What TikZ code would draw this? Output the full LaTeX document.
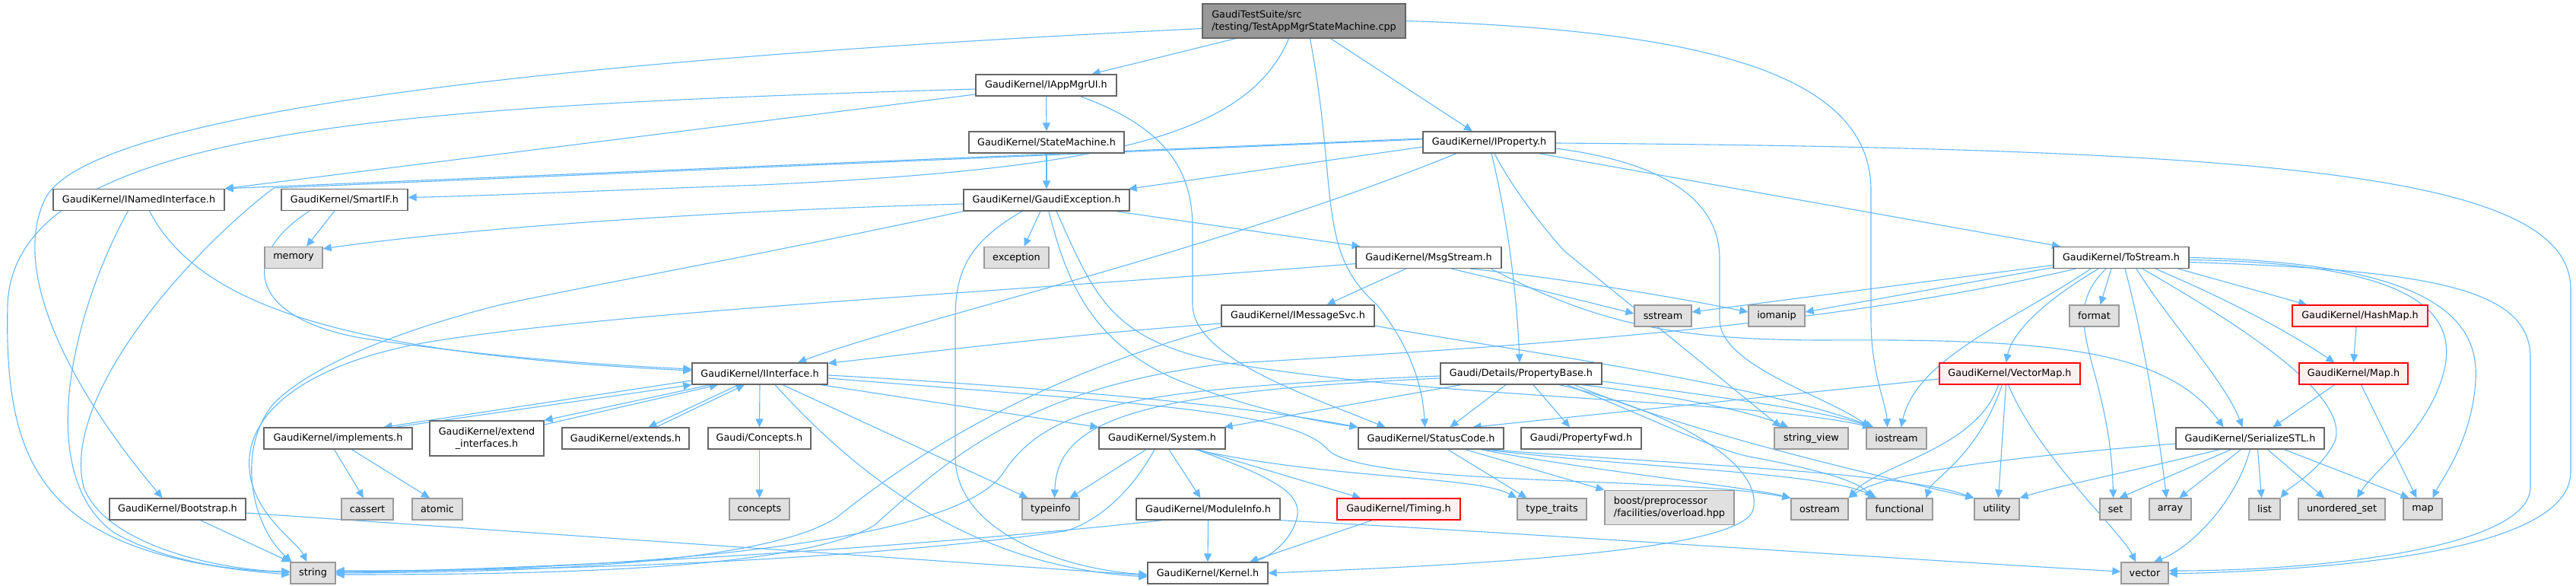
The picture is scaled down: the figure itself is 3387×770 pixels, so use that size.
\documentclass[tikz,border=0pt]{standalone}
\usepackage{fontspec}
\setmainfont{DejaVu Sans}
\usetikzlibrary{arrows.meta,backgrounds}
\definecolor{edgeblue}{HTML}{63B8FF}
\definecolor{nodegray}{HTML}{666666}
\definecolor{sysgray}{HTML}{999999}
\definecolor{sysfill}{HTML}{E0E0E0}
\definecolor{redline}{HTML}{FF0000}
\definecolor{redfill}{HTML}{FFF0F0}
\definecolor{rootfill}{HTML}{999999}
\begin{document}
\begin{tikzpicture}[x=1pt,y=-1pt,
  every node/.style={font=\fontsize{12.8pt}{16pt}\selectfont, inner sep=0pt},
  box/.style={draw=nodegray, fill=white, line width=1.3pt, minimum height=28pt},
  gbox/.style={box, draw=sysgray, fill=sysfill},
  rbox/.style={box, draw=redline, fill=redfill},
  edge/.style={draw=edgeblue, line width=1.1pt, -{Triangle[length=11pt,width=10pt]}},
]
\useasboundingbox (0,0) rectangle (3387,770);
% row 0
\node[box, fill=rootfill, minimum width=267pt, minimum height=45pt, align=left] (R) at (1714.5,27.5) {GaudiTestSuite/src\\/testing/TestAppMgrStateMachine.cpp};
% row 1
\node[box, minimum width=185pt] (A) at (1375.5,112) {GaudiKernel/IAppMgrUI.h};
% row 2
\node[box, minimum width=204pt] (SM) at (1376,187) {GaudiKernel/StateMachine.h};
\node[box, minimum width=174pt] (IP) at (1958,187) {GaudiKernel/IProperty.h};
% row 3
\node[box, minimum width=225pt] (INI) at (182.5,262.5) {GaudiKernel/INamedInterface.h};
\node[box, minimum width=166pt] (SIF) at (453,262.5) {GaudiKernel/SmartIF.h};
\node[box, minimum width=218pt] (GE) at (1376,263) {GaudiKernel/GaudiException.h};
% row 4
\node[gbox, minimum width=76pt] (mem) at (386,338.5) {memory};
\node[gbox, minimum width=85pt] (exc) at (1336.5,338.5) {exception};
\node[box, minimum width=191pt] (MS) at (1878.5,338.5) {GaudiKernel/MsgStream.h};
\node[box, minimum width=178pt] (TS) at (2789,338.5) {GaudiKernel/ToStream.h};
% row 5
\node[box, minimum width=201pt] (IMS) at (1706.5,415) {GaudiKernel/IMessageSvc.h};
\node[gbox, minimum width=75pt] (sst) at (2186.5,415) {sstream};
\node[gbox, minimum width=74pt] (iom) at (2336,415) {iomanip};
\node[gbox, minimum width=65pt] (fmt) at (2753.5,415) {format};
\node[rbox, minimum width=178pt] (HM) at (3103,415) {GaudiKernel/HashMap.h};
% row 6
\node[box, minimum width=178pt] (II) at (999,491) {GaudiKernel/IInterface.h};
\node[box, minimum width=212pt] (PB) at (2000,491) {Gaudi/Details/PropertyBase.h};
\node[rbox, minimum width=185pt] (VM) at (2642.5,491) {GaudiKernel/VectorMap.h};
\node[rbox, minimum width=143pt] (MapH) at (3094.5,491) {GaudiKernel/Map.h};
% row 7
\node[box, minimum width=195pt] (impl) at (444.5,576) {GaudiKernel/implements.h};
\node[box, minimum width=150pt, minimum height=46pt, align=center] (extif) at (640,576) {GaudiKernel/extend\\\_interfaces.h};
\node[box, minimum width=167pt] (exts) at (822.5,576) {GaudiKernel/extends.h};
\node[box, minimum width=135pt] (ConH) at (998.5,576) {Gaudi/Concepts.h};
\node[box, minimum width=166pt] (Sys) at (1528,576) {GaudiKernel/System.h};
\node[box, minimum width=191pt] (SC) at (1881.5,576) {GaudiKernel/StatusCode.h};
\node[box, minimum width=158pt] (PF) at (2079,576) {Gaudi/PropertyFwd.h};
\node[gbox, minimum width=97pt] (sv) at (2381.5,576) {string\_view};
\node[gbox, minimum width=79pt] (ios) at (2493.5,576) {iostream};
\node[box, minimum width=195pt] (SS) at (2958.5,576) {GaudiKernel/SerializeSTL.h};
% row 8
\node[box, minimum width=179pt] (Boot) at (233.5,669) {GaudiKernel/Bootstrap.h};
\node[gbox, minimum width=68pt] (cas) at (483,669) {cassert};
\node[gbox, minimum width=66pt] (atom) at (575,669) {atomic};
\node[gbox, minimum width=79pt] (conc) at (998.5,669) {concepts};
\node[gbox, minimum width=75pt] (tinf) at (1381.5,669) {typeinfo};
\node[box, minimum width=189pt] (MI) at (1588.5,669) {GaudiKernel/ModuleInfo.h};
\node[rbox, minimum width=162pt] (Tim) at (1839,669) {GaudiKernel/Timing.h};
\node[gbox, minimum width=91pt] (tt) at (2040.5,669) {type\_traits};
\node[gbox, minimum width=170pt, minimum height=45pt, align=left] (boost) at (2195,667) {boost/preprocessor\\/facilities/overload.hpp};
\node[gbox, minimum width=75pt] (ost) at (2392.5,669) {ostream};
\node[gbox, minimum width=87pt] (func) at (2497.5,669) {functional};
\node[gbox, minimum width=59pt] (util) at (2625.5,669) {utility};
\node[gbox, minimum width=41pt] (set) at (2781.5,669) {set};
\node[gbox, minimum width=55pt] (arr) at (2853.5,669) {array};
\node[gbox, minimum width=41pt] (lst) at (2977.5,669) {list};
\node[gbox, minimum width=114pt] (uset) at (3079,669) {unordered\_set};
\node[gbox, minimum width=51pt] (mapS) at (3185.5,669) {map};
% row 9
\node[gbox, minimum width=59pt] (str) at (411.5,753) {string};
\node[box, minimum width=158pt] (Ker) at (1588,753) {GaudiKernel/Kernel.h};
\node[gbox, minimum width=62pt] (vec) at (2820,753) {vector};

\begin{scope}[on background layer]
\fill[white] (0,0) rectangle (3387,770);
% root
\draw[edge] ([yshift=-10pt]R.west) .. controls (700,80) and (120,150) .. (60,260) .. controls (10,360) and (100,520) .. ([xshift=-20pt]Boot.north);
\draw[edge] ([xshift=-90pt]R.south) -- ([xshift=60pt]A.north);
\draw[edge] ([xshift=35pt]R.south) -- ([xshift=-22pt]IP.north);
\draw[edge] ([xshift=-20pt]R.south) .. controls (1640,180) and (1450,222) .. (1000,243) .. controls (800,250) and (650,257) .. ([yshift=3pt]SIF.east);
\draw[edge] ([xshift=8pt]R.south) .. controls (1760,250) and (1730,330) .. (1810,400) .. controls (1850,450) and (1870,500) .. ([xshift=-8pt]SC.north);
\draw[edge] (R.east) .. controls (2250,40) and (2460,100) .. (2460,250) -- (2460,420) .. controls (2460,490) and (2480,530) .. ([xshift=-12pt]ios.north);
% IAppMgrUI
\draw[edge] ([yshift=-5pt]A.west) .. controls (500,140) and (20,170) .. (10,400) .. controls (5,620) and (60,730) .. ([yshift=-2pt]str.west);
\draw[edge] ([yshift=-12pt]A.west) -- (INI.north east);
\draw[edge] (A.south) -- (SM.north);
\draw[edge] ([xshift=45pt]A.south) .. controls (1540,170) and (1568,230) .. (1568,300) -- (1568,400) .. controls (1568,470) and (1720,520) .. ([xshift=-60pt]SC.north);
% StateMachine
\draw[edge] (SM.south) -- (GE.north);
% IProperty
\draw[edge] ([yshift=5pt]IP.west) -- (INI.north east);
\draw[edge] ([yshift=4pt]IP.west) -- (360,247) .. controls (250,330) and (80,520) .. (110,640) .. controls (140,720) and (300,750) .. ([yshift=2pt]str.west);
\draw[edge] ([yshift=-6pt]IP.west) -- ([xshift=-2pt]GE.north east);
\draw[edge] ([xshift=-43pt]IP.south) .. controls (1600,330) and (1200,420) .. ([xshift=50pt]II.north);
\draw[edge] ([xshift=3pt]IP.south) .. controls (1985,300) and (1995,400) .. ([xshift=-2pt]PB.north);
\draw[edge] ([xshift=7pt]IP.south) .. controls (1990,250) and (2030,300) .. (2057,330) -- ([xshift=-40pt]sv.north);
\draw[edge] ([yshift=-8pt]IP.east) .. controls (2200,215) and (2261,270) .. (2261,340) -- (2261,420) .. controls (2261,480) and (2400,520) .. ([xshift=-35pt]ios.north);
\draw[edge] ([xshift=65pt]IP.south) -- ([xshift=-80pt]TS.north);
\draw[edge] ([yshift=-1pt]IP.east) .. controls (3000,195) and (3380,230) .. (3380,380) -- (3380,620) .. controls (3380,720) and (3100,748) .. ([yshift=-1pt]vec.east);
% INamedInterface
\draw[edge] ([xshift=14pt]INI.south) .. controls (260,400) and (450,465) .. ([yshift=4pt]II.west);
\draw[edge] ([xshift=-14pt]INI.south) .. controls (100,400) and (40,620) .. (150,700) .. controls (230,745) and (330,750) .. ([yshift=1pt]str.west);
% SmartIF
\draw[edge] ([xshift=-46pt]SIF.south) .. controls (310,340) and (330,420) .. (480,445) .. controls (650,470) and (800,480) .. ([yshift=6pt]II.west);
\draw[edge] ([xshift=-13pt]SIF.south) -- ([xshift=17pt]mem.north);
% GaudiException
\draw[edge] ([yshift=-5pt]GE.west) .. controls (1000,275) and (650,295) .. ([yshift=-3pt]mem.north east);
\draw[edge] (GE.south west) .. controls (1000,335) and (800,370) .. (660,400) .. controls (560,425) and (420,470) .. (360,530) .. controls (310,590) and (330,690) .. ([xshift=-28pt]str.north);
\draw[edge] ([xshift=-32pt]GE.south) .. controls (1270,320) and (1256,360) .. (1256,420) -- (1256,600) .. controls (1256,700) and (1400,748) .. ([yshift=-2pt]Ker.west);
\draw[edge] ([xshift=-8pt]GE.south) -- ([xshift=10pt]exc.north);
\draw[edge] ([xshift=91pt]GE.south) -- ([xshift=-90pt]MS.north);
\draw[edge] ([xshift=3pt]GE.south) .. controls (1400,360) and (1430,450) .. (1550,500) .. controls (1650,540) and (1740,555) .. (SC.north west);
\draw[edge] ([xshift=13pt]GE.south) .. controls (1440,390) and (1460,450) .. (1620,478) .. controls (1900,525) and (2300,525) .. ([xshift=-33pt]ios.north);
% MsgStream
\draw[edge] ([xshift=-30pt]MS.south) -- ([xshift=38pt]IMS.north);
\draw[edge] ([yshift=-8pt]MS.west) .. controls (1300,385) and (800,410) .. (560,450) .. controls (420,475) and (335,530) .. (328,600) .. controls (322,670) and (390,710) .. ([xshift=-8pt]str.north);
\draw[edge] ([xshift=30pt]MS.south) .. controls (1980,370) and (2080,395) .. ([yshift=3pt]sst.west);
\draw[edge] ([xshift=55pt]MS.south) .. controls (2050,365) and (2200,390) .. ([yshift=5pt]iom.west);
\draw[edge] ([xshift=82pt]MS.south) .. controls (2100,425) and (2200,447) .. (2400,447) .. controls (2700,445) and (2850,460) .. ([xshift=-35pt]SS.north);
% IMessageSvc
\draw[edge] ([yshift=-10pt]IMS.west) .. controls (1400,440) and (1200,465) .. ([yshift=-1pt]II.north east);
\draw[edge] (IMS.south west) .. controls (1350,500) and (1200,600) .. (1100,680) .. controls (1000,745) and (650,752) .. (str.east);
\draw[edge] ([yshift=-13pt]IMS.east) .. controls (1950,455) and (2300,500) .. ([xshift=-30pt]ios.north);
% ToStream
\draw[edge] ([yshift=-10pt]TS.west) -- ([yshift=5pt]sst.east);
\draw[edge] ([yshift=-13pt]TS.west) -- ([yshift=5pt]iom.east);
\draw[edge] ([xshift=-60pt]TS.south) .. controls (2400,430) and (2000,455) .. (1610,478) .. controls (1350,510) and (1250,600) .. (1150,690) .. controls (1050,750) and (700,755) .. ([yshift=-2pt]str.east);
\draw[edge] ([xshift=-40pt]TS.south) .. controls (2650,420) and (2520,470) .. ([xshift=6pt]ios.north);
\draw[edge] ([xshift=-30pt]TS.south) .. controls (2680,400) and (2645,440) .. ([xshift=-5pt]VM.north);
\draw[edge] ([xshift=-13pt]TS.south) -- ([xshift=8pt]fmt.north);
\draw[edge] ([xshift=-20pt]TS.south) .. controls (2700,420) and (2775,480) .. ([xshift=-3pt]set.north);
\draw[edge] ([xshift=5pt]TS.south) .. controls (2820,450) and (2840,580) .. ([xshift=-5pt]arr.north);
\draw[edge] ([xshift=20pt]TS.south) .. controls (2850,420) and (2925,500) .. ([xshift=-10pt]SS.north);
\draw[edge] ([xshift=28pt]TS.south) .. controls (2950,430) and (3090,520) .. (3070,580) .. controls (3050,620) and (3010,640) .. (lst.north east);
\draw[edge] ([xshift=45pt]TS.south) .. controls (2920,390) and (3000,430) .. ([xshift=-25pt]MapH.north);
\draw[edge] ([xshift=75pt]TS.south) -- ([xshift=-70pt]HM.north);
\draw[edge] ([yshift=-3pt]TS.east) .. controls (3150,345) and (3230,400) .. (3215,480) .. controls (3200,560) and (3120,620) .. ([xshift=20pt]uset.north);
\draw[edge] ([yshift=0pt]TS.east) .. controls (3200,345) and (3260,420) .. (3255,500) .. controls (3250,580) and (3210,630) .. ([xshift=13pt]mapS.north);
\draw[edge] ([yshift=-6pt]TS.east) .. controls (3200,355) and (3327,380) .. (3327,470) -- (3327,640) .. controls (3327,720) and (3050,750) .. ([yshift=3pt]vec.east);
% IInterface
\draw[edge] ([yshift=-9pt]II.west) -- ([xshift=60pt]impl.north);
\draw[edge] ([xshift=75pt]impl.north) -- (II.south west);
\draw[edge] ([xshift=-65pt]II.south) -- (extif.north east);
\draw[edge] ([yshift=18pt]extif.east) -- ([xshift=-55pt]II.south);
\draw[edge] ([xshift=-28pt]II.south) -- ([xshift=30pt]exts.north);
\draw[edge] ([xshift=40pt]exts.north) -- ([xshift=-20pt]II.south);
\draw[edge] (II.south) -- (ConH.north);
\draw[edge] ([xshift=30pt]II.south) -- ([xshift=-30pt]tinf.north);
\draw[edge] ([xshift=20pt]II.south) .. controls (1150,650) and (1300,745) .. ([yshift=-5pt]Ker.west);
\draw[edge] ([xshift=80pt]II.south) -- (Sys.north west);
\draw[edge] ([yshift=-2pt]II.east) .. controls (1400,510) and (1650,535) .. (SC.north west);
\draw[edge] ([yshift=-6pt]II.east) .. controls (1500,530) and (1700,540) .. (1745,590) .. controls (1790,640) and (2200,625) .. (ost.north west);
% implements, extends, concepts, bootstrap
\draw[edge] ([xshift=-5pt]impl.south) -- ([xshift=-5pt]cas.north);
\draw[edge] ([xshift=18pt]impl.south) -- ([xshift=-10pt]atom.north);
\draw[edge] (ConH.south) -- (conc.north);
\draw[edge] ([yshift=-5pt]Boot.east) -- ([yshift=-3pt]Ker.west);
\draw[edge] ([xshift=30pt]Boot.south) -- (str.north west);
% PropertyBase
\draw[edge] ([yshift=-3pt]PB.west) .. controls (1500,510) and (1380,530) .. (1320,620) .. controls (1250,730) and (700,750) .. ([yshift=1pt]str.east);
\draw[edge] ([yshift=-6pt]PB.west) .. controls (1500,515) and (1390,550) .. ([xshift=5pt]tinf.north);
\draw[edge] ([xshift=-79pt]PB.south) -- ([xshift=-2pt]Sys.north east);
\draw[edge] ([xshift=-20pt]PB.south) -- ([xshift=25pt]SC.north);
\draw[edge] ([xshift=16pt]PB.south) -- ([xshift=-15pt]PF.north);
\draw[edge] ([xshift=50pt]PB.south) .. controls (2200,540) and (2320,610) .. (2305,670) .. controls (2290,720) and (2000,740) .. (Ker.east);
\draw[edge] ([xshift=80pt]PB.south) .. controls (2200,520) and (2300,540) .. ([xshift=-30pt]sv.north);
\draw[edge] ([yshift=-10pt]PB.east) .. controls (2250,520) and (2400,540) .. ([xshift=-33pt]ios.north);
\draw[edge] ([xshift=60pt]PB.south) .. controls (2150,540) and (2250,590) .. (2300,600) .. controls (2380,615) and (2440,630) .. ([xshift=-35pt]func.north);
\draw[edge] ([xshift=70pt]PB.south) .. controls (2200,560) and (2400,610) .. (util.north west);
% System
\draw[edge] ([xshift=-21pt]Sys.south) -- ([xshift=25pt]tinf.north);
\draw[edge] ([xshift=-10pt]Sys.south) .. controls (1480,660) and (1430,690) .. (1400,698) .. controls (1100,740) and (700,750) .. ([yshift=3pt]str.east);
\draw[edge] ([xshift=9pt]Sys.south) -- ([xshift=-10pt]MI.north);
\draw[edge] ([xshift=47pt]Sys.south) -- ([xshift=-50pt]Tim.north);
\draw[edge] ([xshift=45pt]Sys.south) .. controls (1680,630) and (1720,650) .. (1702,690) .. controls (1690,720) and (1660,735) .. ([xshift=55pt]Ker.north);
\draw[edge] ([xshift=43pt]Sys.south) .. controls (1750,630) and (1940,625) .. (tt.north west);
% StatusCode
\draw[edge] ([xshift=22pt]SC.south) -- ([xshift=-33pt]tt.north);
\draw[edge] ([xshift=45pt]SC.south) -- (boost.north west);
\draw[edge] ([xshift=65pt]SC.south) .. controls (2100,620) and (2300,640) .. (ost.north west);
\draw[edge] ([xshift=70pt]SC.south) .. controls (2150,615) and (2400,620) .. ([xshift=-30pt]func.north);
\draw[edge] ([xshift=75pt]SC.south) .. controls (2200,610) and (2500,620) .. (util.north west);
% VectorMap
\draw[edge] ([yshift=-7pt]VM.west) -- ([xshift=55pt]SC.north);
\draw[edge] ([xshift=-15pt]VM.south) .. controls (2600,590) and (2470,610) .. (ost.north east);
\draw[edge] ([xshift=-10pt]VM.south) .. controls (2600,600) and (2540,630) .. ([xshift=35pt]func.north);
\draw[edge] ([xshift=-5pt]VM.south) -- ([xshift=2pt]util.north);
\draw[edge] ([xshift=-2pt]VM.south) .. controls (2680,600) and (2790,700) .. ([xshift=-12pt]vec.north);
% HashMap, Map
\draw[edge] ([xshift=-5pt]HM.south) -- (MapH.north);
\draw[edge] ([xshift=-25pt]MapH.south) -- ([xshift=30pt]SS.north);
\draw[edge] ([xshift=10pt]MapH.south) -- ([xshift=-8pt]mapS.north);
% SerializeSTL
\draw[edge] ([yshift=-7pt]SS.west) .. controls (2650,600) and (2480,620) .. (ost.north east);
\draw[edge] ([xshift=-40pt]SS.south) .. controls (2800,620) and (2700,640) .. (util.north east);
\draw[edge] ([xshift=-25pt]SS.south) -- ([xshift=5pt]set.north);
\draw[edge] ([xshift=-12pt]SS.south) -- ([xshift=12pt]arr.north);
\draw[edge] (SS.south) .. controls (2940,660) and (2880,720) .. ([xshift=12pt]vec.north);
\draw[edge] ([xshift=10pt]SS.south) -- ([xshift=-4pt]lst.north);
\draw[edge] ([xshift=23pt]SS.south) -- ([xshift=-23pt]uset.north);
\draw[edge] ([xshift=45pt]SS.south) -- ([xshift=-18pt]mapS.north);
% ModuleInfo, Timing
\draw[edge] ([xshift=-60pt]MI.south) .. controls (1200,720) and (700,750) .. ([yshift=2pt]str.east);
\draw[edge] (MI.south) -- (Ker.north);
\draw[edge] (MI.south east) .. controls (2000,700) and (2500,735) .. ([yshift=2pt]vec.west);
\draw[edge] ([xshift=-35pt]Tim.south) -- ([xshift=55pt]Ker.north);
\end{scope}
\end{tikzpicture}
\end{document}
